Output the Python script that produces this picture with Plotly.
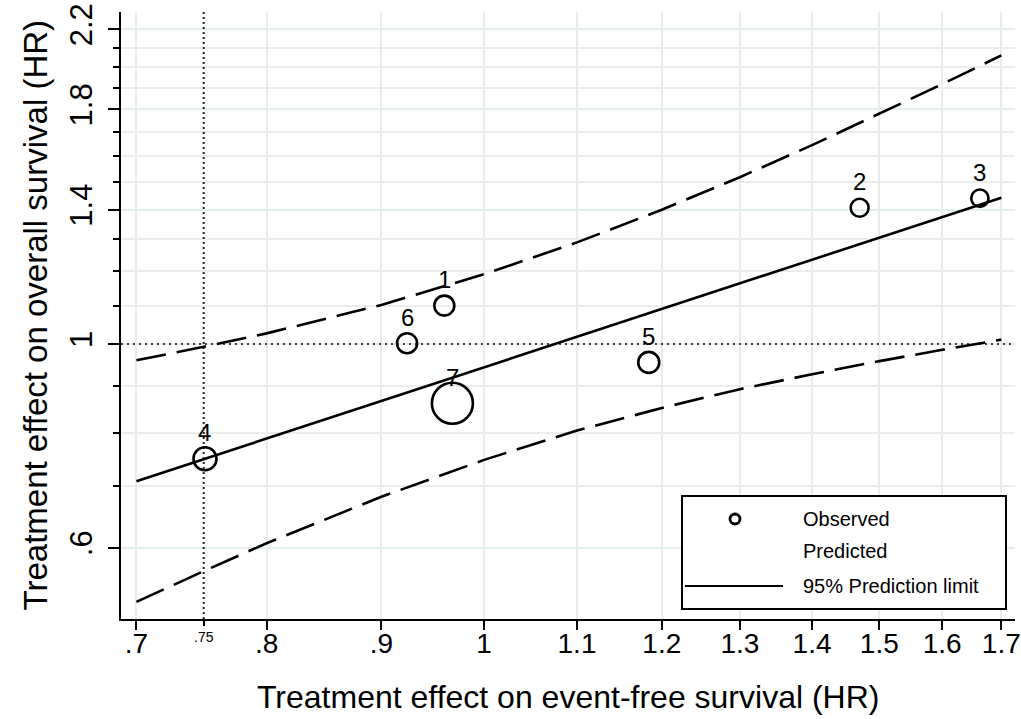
import numpy as np
import plotly.graph_objects as go

# ---------------- data ----------------
study = ["1", "2", "3", "4", "5", "6", "7"]
efs_hr = [0.960, 1.470, 1.663, 0.751, 1.184, 0.924, 0.968]
os_hr = [1.101, 1.407, 1.441, 0.750, 0.955, 1.002, 0.862]
weight = [4.0, 3.2, 3.0, 5.3, 4.4, 4.0, 16.8]

fit_x = [0.7, 1.7]
fit_y = [0.709, 1.443]

band_x = [0.7, 0.75, 0.8, 0.9, 1.0, 1.1, 1.2, 1.3, 1.4, 1.5, 1.6, 1.7]
upper_y = [0.960, 0.993, 1.027, 1.103, 1.191, 1.290, 1.400, 1.519, 1.646, 1.780, 1.918, 2.061]
lower_y = [0.524, 0.566, 0.607, 0.682, 0.748, 0.805, 0.852, 0.893, 0.927, 0.958, 0.9855, 1.011]

ref_x = 0.75
ref_y = 1.0

x_range = [0.689, 1.724]
y_range = [0.502, 2.298]

x_ticks = [0.7, 0.8, 0.9, 1.0, 1.1, 1.2, 1.3, 1.4, 1.5, 1.6, 1.7]
x_ticklabels = [".7", ".8", ".9", "1", "1.1", "1.2", "1.3", "1.4", "1.5", "1.6", "1.7"]
x_minor = [0.75]
x_minor_label = ".75"
y_ticks = [0.6, 1.0, 1.4, 1.8, 2.2]
y_ticklabels = [".6", "1", "1.4", "1.8", "2.2"]
y_minor = [0.7, 0.8, 0.9, 1.1, 1.2, 1.3, 1.5, 1.6, 1.7, 1.9, 2.0, 2.1]

x_title = "Treatment effect on event-free survival (HR)"
y_title = "Treatment effect on overall survival (HR)"
legend_labels = ["Observed", "Predicted", "95% Prediction limit"]

# ---------------- figure ----------------
W, H = 1021, 719
ML, MR, MT, MB = 121, 6, 12, 100
PW, PH = W - ML - MR, H - MT - MB
FONT = "Liberation Sans, Arial, Helvetica, sans-serif"


def px_x(p):
    return (p - ML) / PW


def px_y(p):
    return (MT + PH - p) / PH


fig = go.Figure()

# reference lines
fig.add_trace(go.Scatter(x=[ref_x, ref_x], y=y_range, mode="lines",
                         line=dict(color="#222222", width=2, dash="2px,3px"),
                         hoverinfo="skip", showlegend=False))
fig.add_trace(go.Scatter(x=x_range, y=[ref_y, ref_y], mode="lines",
                         line=dict(color="#3a4848", width=2, dash="2px,4px"),
                         hoverinfo="skip", showlegend=False))

# prediction limits
fig.add_trace(go.Scatter(x=band_x, y=upper_y, mode="lines",
                         line=dict(color="black", width=2.6, dash="30px,11px"),
                         showlegend=False))
fig.add_trace(go.Scatter(x=band_x, y=lower_y, mode="lines",
                         line=dict(color="black", width=2.6, dash="30px,11px"),
                         showlegend=False))
# fitted line
fig.add_trace(go.Scatter(x=fit_x, y=fit_y, mode="lines",
                         line=dict(color="black", width=2.6), showlegend=False))

# observed points
sizes = [10 * np.sqrt(w) for w in weight]
fig.add_trace(go.Scatter(x=efs_hr, y=os_hr, mode="markers",
                         marker=dict(size=sizes, symbol="circle-open", color="black",
                                     opacity=1, line=dict(color="black", width=2.6)),
                         showlegend=False))

annotations = []
for s, xv, yv in zip(study, efs_hr, os_hr):
    annotations.append(dict(x=np.log10(xv), y=np.log10(yv), xref="x", yref="y",
                            text=s, showarrow=False, yshift=26,
                            xanchor="center", yanchor="middle",
                            font=dict(family=FONT, size=24, color="black")))

# small .75 label
annotations.append(dict(x=np.log10(x_minor[0]), y=0, xref="x", yref="paper",
                        text=x_minor_label, showarrow=False, yshift=-18,
                        xanchor="center", yanchor="middle",
                        font=dict(family=FONT, size=14, color="black")))

# axis titles
annotations.append(dict(x=0.5, y=0, xref="paper", yref="paper", text=x_title,
                        showarrow=False, yshift=-(697 - 619),
                        xanchor="center", yanchor="middle",
                        font=dict(family=FONT, size=32, color="black")))
annotations.append(dict(x=0, y=0.5, xref="paper", yref="paper", text=y_title,
                        showarrow=False, xshift=-(ML - 35), textangle=-90,
                        xanchor="center", yanchor="middle",
                        font=dict(family=FONT, size=33, color="black")))

# legend (drawn manually)
shapes = [
    dict(type="rect", xref="paper", yref="paper",
         x0=px_x(682), x1=px_x(1006), y0=px_y(609), y1=px_y(496),
         line=dict(color="black", width=2), fillcolor="white", layer="above"),
    dict(type="circle", xref="paper", yref="paper",
         xsizemode="pixel", ysizemode="pixel",
         xanchor=px_x(735), yanchor=px_y(519), x0=-5, x1=5, y0=-5, y1=5,
         line=dict(color="black", width=2.8), layer="above"),
    dict(type="line", xref="paper", yref="paper",
         x0=px_x(685), x1=px_x(783), y0=px_y(586), y1=px_y(586),
         line=dict(color="black", width=2.2), layer="above"),
]
for lab, py in zip(legend_labels, [519, 551, 586]):
    annotations.append(dict(x=px_x(801), y=px_y(py), xref="paper", yref="paper",
                            text=lab, showarrow=False, xanchor="left", yanchor="middle",
                            font=dict(family=FONT, size=20, color="black")))

fig.update_layout(
    width=W, height=H,
    margin=dict(l=ML, r=MR, t=MT, b=MB, pad=0, autoexpand=False),
    paper_bgcolor="white", plot_bgcolor="white",
    font=dict(family=FONT, color="black"),
    showlegend=False,
    annotations=annotations,
    shapes=shapes,
    xaxis=dict(type="log", range=[np.log10(x_range[0]), np.log10(x_range[1])],
               automargin=False,
               tickmode="array", tickvals=x_ticks, ticktext=x_ticklabels,
               ticks="outside", ticklen=9, tickwidth=2, tickcolor="black",
               tickfont=dict(family=FONT, size=28, color="black"),
               ticklabelstandoff=-11, ticklabeloverflow="allow",
               showline=True, linecolor="black", linewidth=2,
               showgrid=True, gridcolor="#ebebeb", gridwidth=2, zeroline=False,
               minor=dict(tickvals=x_minor, ticks="outside", ticklen=5, tickwidth=2,
                          tickcolor="black", showgrid=False)),
    yaxis=dict(type="log", range=[np.log10(y_range[0]), np.log10(y_range[1])],
               automargin=False,
               tickmode="array", tickvals=y_ticks, ticktext=y_ticklabels,
               tickangle=-90,
               ticks="outside", ticklen=11, tickwidth=2, tickcolor="black",
               tickfont=dict(family=FONT, size=31, color="black"),
               ticklabelstandoff=4, ticklabeloverflow="allow",
               showline=True, linecolor="black", linewidth=2,
               showgrid=True, gridcolor="#e4eeee", gridwidth=2, zeroline=False,
               minor=dict(tickvals=y_minor, ticks="outside", ticklen=6, tickwidth=2,
                          tickcolor="black", showgrid=True, gridcolor="#ececec",
                          gridwidth=2)),
)

fig.write_html("out.html")
